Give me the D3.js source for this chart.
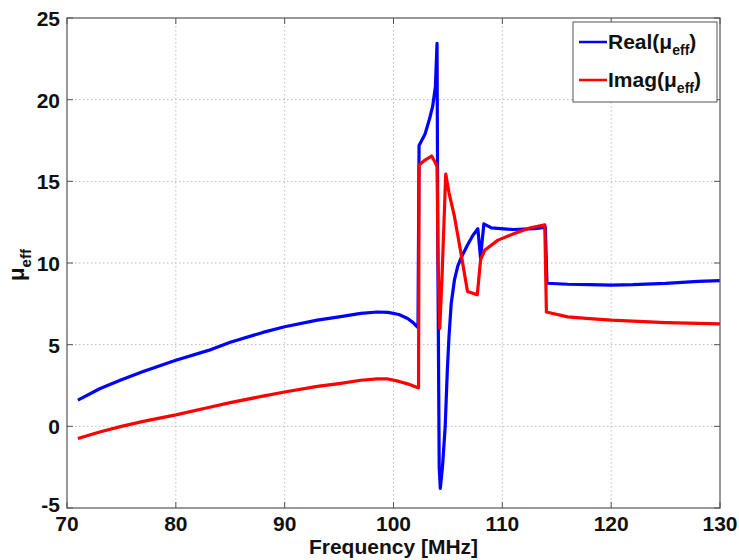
<!DOCTYPE html>
<html>
<head>
<meta charset="utf-8">
<script src="https://cdn.jsdelivr.net/npm/d3@7"></script>
<style>
  body { margin: 0; background: #fff; }
  text { font-family: "Liberation Sans", Arial, sans-serif; font-weight: bold; fill: #111; }
</style>
</head>
<body>
<div id="chart"></div>
<script>
"use strict"

// Real part of mu_eff
const freqReal = [71, 73, 75, 77, 80, 83, 85, 88, 90, 93, 95, 97, 98.5, 99.5, 100.5, 101.3, 101.8, 102.25,
  102.35, 102.9, 103.3, 103.6, 103.85, 104.0, 104.08, 104.2, 104.3, 104.5, 104.75, 104.95, 105.1, 105.3,
  105.6, 105.9, 106.2, 106.8, 107.3, 107.75, 108.0, 108.3, 109.0, 111, 113, 113.95, 114.1,
  116, 118, 120, 122, 125, 128, 130];
const muReal = [1.6, 2.3, 2.85, 3.35, 4.05, 4.65, 5.15, 5.75, 6.1, 6.5, 6.7, 6.92, 7.0, 6.98, 6.85, 6.6, 6.35, 6.05,
  17.2, 17.9, 18.8, 19.6, 20.8, 23.45, 10, -2.5, -3.8, -2.5, 0, 3.5, 5.5, 7.5,
  8.96, 9.8, 10.3, 11.1, 11.7, 12.1, 10.3, 12.4, 12.15, 12.05, 12.1, 12.2, 8.76,
  8.7, 8.67, 8.65, 8.67, 8.75, 8.88, 8.92];

// Imaginary part of mu_eff
const freqImag = [71, 73, 75, 77, 80, 83, 85, 88, 90, 93, 95, 97, 98.5, 99.5, 100.5, 101.3, 102.3,
  102.35, 102.9, 103.5, 103.8, 104.0, 104.1, 104.25, 104.45, 104.8, 105.1, 105.6, 106.2, 106.8,
  107.7, 108.0, 108.4, 109.6, 111.1, 112.6, 113.9, 114.05, 116, 118, 120, 125, 130];
const muImag = [-0.75, -0.35, 0.0, 0.3, 0.7, 1.15, 1.45, 1.85, 2.1, 2.45, 2.62, 2.82, 2.9, 2.9, 2.75, 2.6, 2.35,
  16.0, 16.3, 16.55, 16.2, 15.9, 10, 6.0, 9, 15.45, 14.3, 12.85, 10.6, 8.25,
  8.05, 10.2, 10.8, 11.4, 11.8, 12.16, 12.33, 7.0, 6.7, 6.6, 6.5, 6.35, 6.27];

const xTicks = [70, 80, 90, 100, 110, 120, 130];
const yTicks = [-5, 0, 5, 10, 15, 20, 25];

const width = 739, height = 560;
const plot = { left: 67, right: 720, top: 18, bottom: 508 };

const svg = d3.select("#chart").append("svg")
  .attr("width", width)
  .attr("height", height);

const x = d3.scaleLinear().domain([70, 130]).range([plot.left, plot.right]);
const y = d3.scaleLinear().domain([-5, 25]).range([plot.bottom, plot.top]);

// grid
svg.selectAll(".gx").data(xTicks.slice(1, -1)).enter().append("line")
  .attr("x1", d => x(d)).attr("x2", d => x(d))
  .attr("y1", plot.top).attr("y2", plot.bottom)
  .attr("stroke", "#bbb").attr("stroke-width", 1).attr("stroke-dasharray", "1.5,2.5");
svg.selectAll(".gy").data(yTicks.slice(1, -1)).enter().append("line")
  .attr("y1", d => y(d)).attr("y2", d => y(d))
  .attr("x1", plot.left).attr("x2", plot.right)
  .attr("stroke", "#bbb").attr("stroke-width", 1).attr("stroke-dasharray", "1.5,2.5");

// tick marks (inside)
svg.selectAll(".tx").data(xTicks).enter().append("g").each(function (d) {
  const g = d3.select(this);
  g.append("line").attr("x1", x(d)).attr("x2", x(d)).attr("y1", plot.bottom).attr("y2", plot.bottom - 6).attr("stroke", "#555");
  g.append("line").attr("x1", x(d)).attr("x2", x(d)).attr("y1", plot.top).attr("y2", plot.top + 6).attr("stroke", "#555");
});
svg.selectAll(".ty").data(yTicks).enter().append("g").each(function (d) {
  const g = d3.select(this);
  g.append("line").attr("y1", y(d)).attr("y2", y(d)).attr("x1", plot.left).attr("x2", plot.left + 6).attr("stroke", "#555");
  g.append("line").attr("y1", y(d)).attr("y2", y(d)).attr("x1", plot.right).attr("x2", plot.right - 6).attr("stroke", "#555");
});

// curves
const lineGen = d3.line().x(d => x(d[0])).y(d => y(d[1]));
svg.append("path")
  .datum(d3.zip(freqReal, muReal))
  .attr("d", lineGen)
  .attr("fill", "none").attr("stroke", "#0000ff").attr("stroke-width", 3.2).attr("stroke-linejoin", "round");
svg.append("path")
  .datum(d3.zip(freqImag, muImag))
  .attr("d", lineGen)
  .attr("fill", "none").attr("stroke", "#ff0000").attr("stroke-width", 3.2).attr("stroke-linejoin", "round");

// frame
svg.append("rect")
  .attr("x", plot.left).attr("y", plot.top)
  .attr("width", plot.right - plot.left).attr("height", plot.bottom - plot.top)
  .attr("fill", "none").attr("stroke", "#555").attr("stroke-width", 1.2);

// tick labels
svg.selectAll(".lx").data(xTicks).enter().append("text")
  .attr("x", d => x(d)).attr("y", plot.bottom + 23)
  .attr("text-anchor", "middle").attr("font-size", 21)
  .text(d => d);
svg.selectAll(".ly").data(yTicks).enter().append("text")
  .attr("x", plot.left - 7).attr("y", d => y(d) + (d === -5 ? 4 : 8))
  .attr("text-anchor", "end").attr("font-size", 21)
  .text(d => d);

// axis titles
svg.append("text")
  .attr("x", (plot.left + plot.right) / 2).attr("y", 554)
  .attr("text-anchor", "middle").attr("font-size", 21)
  .text("Frequency [MHz]");

const yl = svg.append("text")
  .attr("transform", "translate(24," + ((plot.top + plot.bottom) / 2 + 2) + ") rotate(-90)")
  .attr("text-anchor", "middle").attr("font-size", 22);
yl.append("tspan").text("μ");
yl.append("tspan").attr("font-size", 15).attr("dy", 7).text("eff");

// legend
const legend = svg.append("g");
legend.append("rect")
  .attr("x", 573).attr("y", 22).attr("width", 144).attr("height", 80)
  .attr("fill", "#fff").attr("stroke", "#555").attr("stroke-width", 1);
const legendItems = [["Real", "#0000ff"], ["Imag", "#ff0000"]];
legendItems.forEach((item, i) => {
  const ly = 42 + i * 38;
  legend.append("line")
    .attr("x1", 579).attr("x2", 607).attr("y1", ly).attr("y2", ly)
    .attr("stroke", item[1]).attr("stroke-width", 2.5);
  const t = legend.append("text").attr("x", 608).attr("y", ly + 7).attr("font-size", 21);
  t.append("tspan").text(item[0] + "(μ");
  t.append("tspan").attr("font-size", 14).attr("dy", 6).text("eff");
  t.append("tspan").attr("dy", -6).text(")");
});
</script>
</body>
</html>
